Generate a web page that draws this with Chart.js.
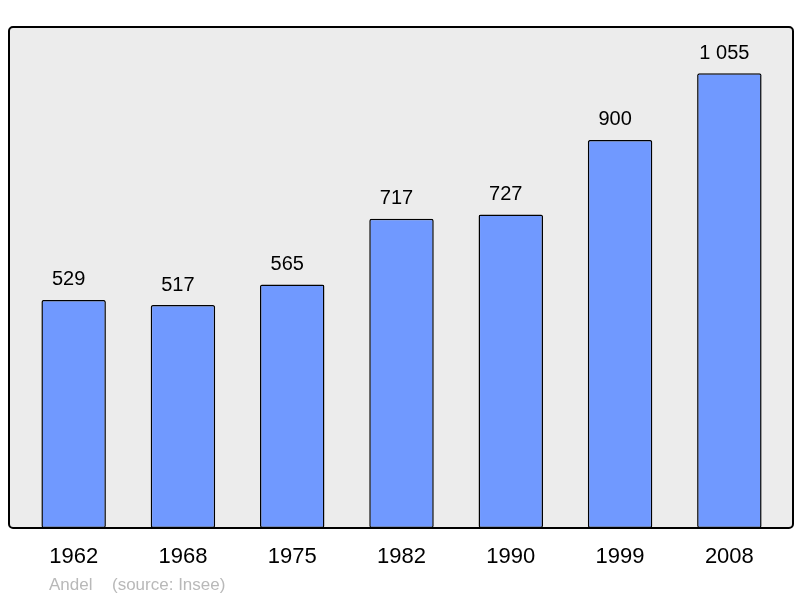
<!DOCTYPE html>
<html>
<head>
<meta charset="utf-8">
<script src="https://cdn.jsdelivr.net/npm/chart.js@4"></script>
<style>
  html, body { margin: 0; padding: 0; background: #ffffff; }
  #wrap { width: 800px; height: 598px; position: relative; }
</style>
</head>
<body>
<div id="wrap"><canvas id="popChart" width="800" height="598"></canvas></div>
<script>
// Données
const years = ['1962', '1968', '1975', '1982', '1990', '1999', '2008'];
const population = [529, 517, 565, 717, 727, 900, 1055];
const valueLabels = ['529', '517', '565', '717', '727', '900', '1 055'];
const yMax = 1162;

// Fond gris + cadre, étiquettes et pied de page
const framePlugin = {
    id: 'frame',
    beforeDatasetsDraw(chart) {
        const { ctx, chartArea: a } = chart;
        const x0 = a.left - 10, x1 = a.right + 9, y0 = a.top, y1 = a.bottom;
        ctx.save();
        ctx.beginPath();
        ctx.roundRect(x0, y0, x1 - x0, y1 - y0, 4);
        ctx.fillStyle = '#ececec';
        ctx.fill();
        ctx.restore();
    },
    afterDatasetsDraw(chart) {
        const { ctx, chartArea: a } = chart;
        const x0 = a.left - 10, x1 = a.right + 9, y0 = a.top, y1 = a.bottom;
        ctx.save();
        ctx.beginPath();
        ctx.roundRect(x0, y0, x1 - x0, y1 - y0, 4);
        ctx.lineWidth = 2;
        ctx.strokeStyle = '#000';
        ctx.stroke();

        const xs = chart.scales.x, ys = chart.scales.y;
        ctx.fillStyle = '#000';
        ctx.textAlign = 'center';
        ctx.textBaseline = 'middle';
        // valeurs au-dessus des barres (légèrement décalées à gauche)
        ctx.font = '20px "Liberation Sans", Arial, sans-serif';
        population.forEach((v, i) => {
            ctx.fillText(valueLabels[i], xs.getPixelForValue(i) - 5, ys.getPixelForValue(v) - 20);
        });
        // années
        ctx.font = '22px "Liberation Sans", Arial, sans-serif';
        years.forEach((y, i) => {
            ctx.fillText(y, xs.getPixelForValue(i), a.bottom + 29);
        });
        // source
        ctx.fillStyle = '#b9b9b9';
        ctx.textAlign = 'left';
        ctx.font = '17px "Liberation Sans", Arial, sans-serif';
        ctx.fillText('Andel', 49, a.bottom + 57);
        ctx.fillText('(source: Insee)', 112, a.bottom + 57);
        ctx.restore();
    }
};

const ctxPop = document.getElementById('popChart').getContext('2d');
const popChart = new Chart(ctxPop, {
    type: 'bar',
    data: {
        labels: years,
        datasets: [{
            data: population,
            backgroundColor: '#7099ff',
            borderColor: '#000000',
            borderWidth: 1.5,
            borderSkipped: false,
            borderRadius: 2,
            categoryPercentage: 1,
            barPercentage: 0.59
        }]
    },
    options: {
        responsive: false,
        animation: false,
        layout: { padding: { left: 19, right: 16, top: 27, bottom: 70 } },
        plugins: { legend: { display: false }, tooltip: { enabled: false } },
        scales: {
            x: { display: false },
            y: { display: false, min: 0, max: yMax }
        }
    },
    plugins: [framePlugin]
});
</script>
</body>
</html>
